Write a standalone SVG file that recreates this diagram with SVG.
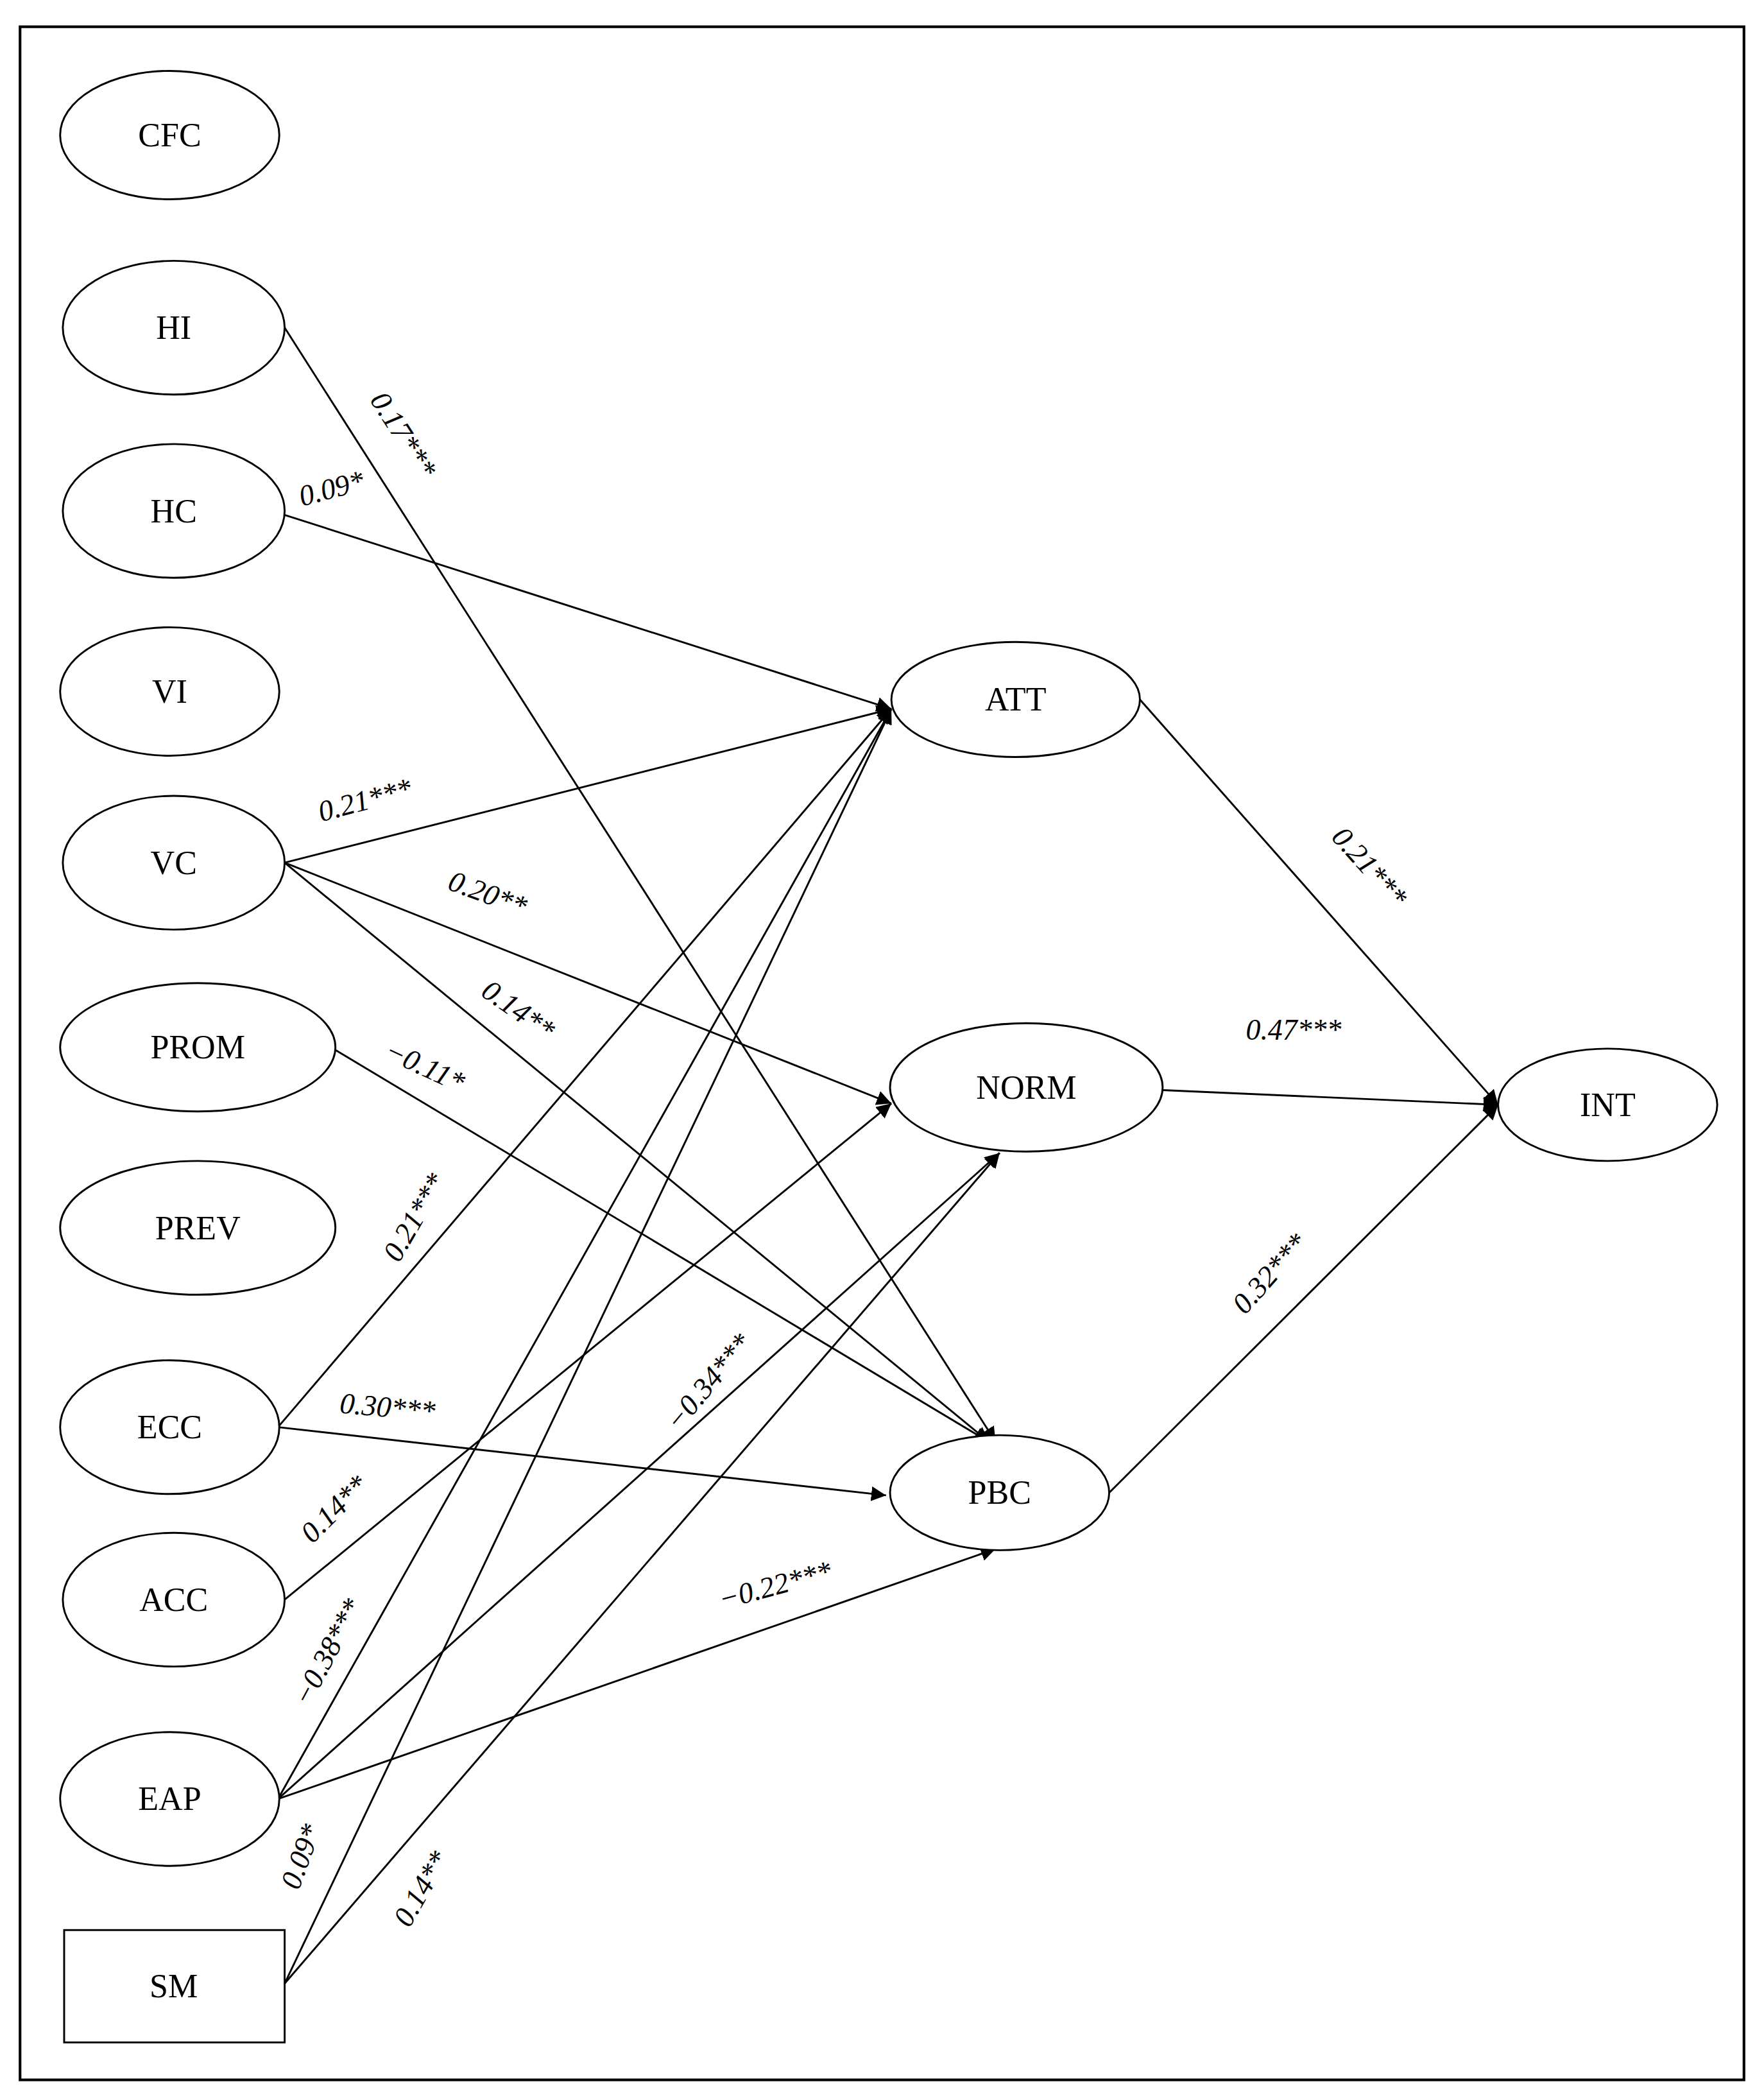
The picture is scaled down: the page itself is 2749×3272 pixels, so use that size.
<svg xmlns="http://www.w3.org/2000/svg" width="2749" height="3272" viewBox="0 0 2749 3272">
<style>
.n{fill:#fff;stroke:#000;stroke-width:1.4}
.t{font-family:"Liberation Serif",serif;font-size:25px;text-anchor:middle;dominant-baseline:central}
.l{font-family:"Liberation Serif",serif;font-size:22px;font-style:italic;text-anchor:middle;dominant-baseline:central}
.e{stroke:#000;stroke-width:1.4;fill:none;marker-end:url(#a)}
</style>
<defs><marker id="a" viewBox="0 0 10 10" refX="10" refY="5" markerWidth="11" markerHeight="11" markerUnits="userSpaceOnUse" orient="auto"><path d="M0,0L10,5L0,10z"/></marker></defs>
<rect width="2749" height="3272" fill="#fff"/>
<g transform="scale(2.0826,2.084)">
<rect x="15" y="20" width="1290" height="1535" fill="none" stroke="#000" stroke-width="2"/>
<g id="connectors">
<line class="e" x1="213" y1="245" x2="745" y2="1078"/>
<line class="e" x1="213" y1="385" x2="667" y2="530"/>
<line class="e" x1="213" y1="645" x2="667" y2="530"/>
<line class="e" x1="213" y1="645" x2="667" y2="825"/>
<line class="e" x1="213" y1="645" x2="740" y2="1078"/>
<line class="e" x1="251" y1="785" x2="740" y2="1078"/>
<line class="e" x1="208" y1="1067" x2="667" y2="530"/>
<line class="e" x1="208" y1="1067" x2="663" y2="1118"/>
<line class="e" x1="213" y1="1196" x2="667" y2="825"/>
<line class="e" x1="208" y1="1345" x2="667" y2="530"/>
<line class="e" x1="208" y1="1345" x2="748" y2="862"/>
<line class="e" x1="208" y1="1345" x2="745" y2="1158"/>
<line class="e" x1="213" y1="1483" x2="667" y2="530"/>
<line class="e" x1="213" y1="1483" x2="748" y2="862"/>
<line class="e" x1="853" y1="523" x2="1121" y2="826"/>
<line class="e" x1="870" y1="815" x2="1121" y2="826"/>
<line class="e" x1="830" y1="1116" x2="1121" y2="826"/>
<text class="l" transform="translate(302,325) rotate(57)">0.17***</text>
<text class="l" transform="translate(248,365) rotate(-15)">0.09*</text>
<text class="l" transform="translate(273,598) rotate(-15)">0.21***</text>
<text class="l" transform="translate(365,668) rotate(20)">0.20**</text>
<text class="l" transform="translate(388,755) rotate(35)">0.14**</text>
<text class="l" transform="translate(318,797) rotate(25)">−0.11*</text>
<text class="l" transform="translate(310,910) rotate(-60)">0.21***</text>
<text class="l" transform="translate(290,1052) rotate(5)">0.30***</text>
<text class="l" transform="translate(250,1128) rotate(-45)">0.14**</text>
<text class="l" transform="translate(245,1235) rotate(-62)">−0.38***</text>
<text class="l" transform="translate(225,1388) rotate(-70)">0.09*</text>
<text class="l" transform="translate(315,1412) rotate(-60)">0.14**</text>
<text class="l" transform="translate(530,1033) rotate(-50)">−0.34***</text>
<text class="l" transform="translate(580,1185) rotate(-15)">−0.22***</text>
<text class="l" transform="translate(1025,648) rotate(48)">0.21***</text>
<text class="l" transform="translate(968,770)">0.47***</text>
<text class="l" transform="translate(950,952) rotate(-48)">0.32***</text>
</g>
<g id="CFC"><ellipse class="n" cx="127" cy="101" rx="82" ry="48"/><text class="t" x="127" y="101">CFC</text></g>
<g id="HI"><ellipse class="n" cx="130" cy="245" rx="83" ry="50"/><text class="t" x="130" y="245">HI</text></g>
<g id="HC"><ellipse class="n" cx="130" cy="382" rx="83" ry="50"/><text class="t" x="130" y="382">HC</text></g>
<g id="VI"><ellipse class="n" cx="127" cy="517" rx="82" ry="48"/><text class="t" x="127" y="517">VI</text></g>
<g id="VC"><ellipse class="n" cx="130" cy="645" rx="83" ry="50"/><text class="t" x="130" y="645">VC</text></g>
<g id="PROM"><ellipse class="n" cx="148" cy="783" rx="103" ry="48"/><text class="t" x="148" y="783">PROM</text></g>
<g id="PREV"><ellipse class="n" cx="148" cy="918" rx="103" ry="50"/><text class="t" x="148" y="918">PREV</text></g>
<g id="ECC"><ellipse class="n" cx="127" cy="1067" rx="82" ry="50"/><text class="t" x="127" y="1067">ECC</text></g>
<g id="ACC"><ellipse class="n" cx="130" cy="1196" rx="83" ry="50"/><text class="t" x="130" y="1196">ACC</text></g>
<g id="EAP"><ellipse class="n" cx="127" cy="1345" rx="82" ry="50"/><text class="t" x="127" y="1345">EAP</text></g>
<g id="SM"><rect class="n" x="48" y="1443" width="165" height="84"/><text class="t" x="130" y="1485">SM</text></g>
<g id="ATT"><ellipse class="n" cx="760" cy="523" rx="93" ry="43"/><text class="t" x="760" y="523">ATT</text></g>
<g id="NORM"><ellipse class="n" cx="768" cy="813" rx="102" ry="48"/><text class="t" x="768" y="813">NORM</text></g>
<g id="PBC"><ellipse class="n" cx="748" cy="1116" rx="82" ry="43"/><text class="t" x="748" y="1116">PBC</text></g>
<g id="INT"><ellipse class="n" cx="1203" cy="826" rx="82" ry="42"/><text class="t" x="1203" y="826">INT</text></g>
</g>
</svg>
